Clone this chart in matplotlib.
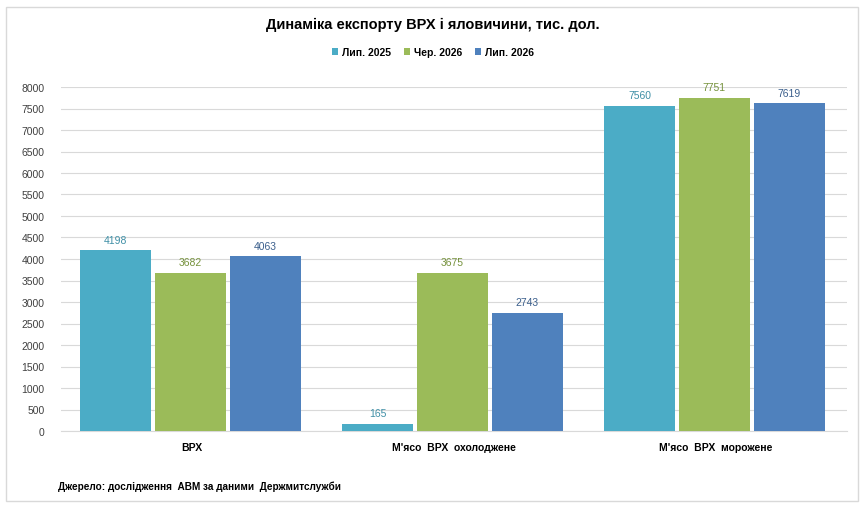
import numpy as np
import matplotlib.pyplot as plt
from matplotlib.patches import Rectangle

plt.rcParams['font.family'] = ['Liberation Sans', 'DejaVu Sans']

categories = ['ВРХ', "М'ясо  ВРХ  охолоджене", "М'ясо  ВРХ  морожене"]
series = ['Лип. 2025', 'Чер. 2026', 'Лип. 2026']
values = {
    'Лип. 2025': [4198, 165, 7560],
    'Чер. 2026': [3682, 3675, 7751],
    'Лип. 2026': [4063, 2743, 7619],
}
bar_colors = ['#4bacc6', '#9bbb59', '#4f81bd']
label_colors = ['#3f8fa6', '#76923c', '#3b5f8c']

fig = plt.figure(figsize=(8.66, 5.10), dpi=100)
fig.patches.append(Rectangle((6/866, 8/510), 852/866, 494/510, transform=fig.transFigure,
                             fill=False, edgecolor='#d9d9d9', linewidth=1))
ax = fig.add_axes([61/866, 1 - 432/510, 786/866, 344/510])

x = np.arange(len(categories))
w = 0.27
step = 0.286
for i, s in enumerate(series):
    pos = x + (i - 1) * step - 0.006
    bars = ax.bar(pos, values[s], width=w, color=bar_colors[i], label=s, zorder=3)
    for b, v in zip(bars, values[s]):
        ax.text(b.get_x() + b.get_width() / 2, v + 130, str(v), ha='center', va='bottom',
                fontsize=7.5, color=label_colors[i])

ax.set_xlim(-0.5, 2.5)
ax.set_ylim(0, 8000)
ax.set_yticks(range(0, 8001, 500))
ax.tick_params(axis='y', length=0, labelsize=7.5, colors='#404040', pad=12)
ax.set_xticks(x)
ax.set_xticklabels(categories, fontsize=7.5, fontweight='bold')
ax.tick_params(axis='x', length=0, pad=8)
ax.grid(axis='y', color='#d9d9d9', linewidth=0.8, zorder=0)
for sp in ['top', 'right', 'left']:
    ax.spines[sp].set_visible(False)
ax.spines['bottom'].set_color('#d9d9d9')

fig.text(0.5, 1 - 25/510, 'Динаміка експорту ВРХ і яловичини, тис. дол.', ha='center', va='center',
         fontsize=10.5, fontweight='bold')
fig.legend(loc='center', bbox_to_anchor=(0.5, 1 - 53/510), ncol=3, frameon=False,
           handlelength=0.6, handleheight=0.6, handletextpad=0.4, columnspacing=1.2,
           prop={'weight': 'bold', 'size': 7.5})
fig.text(58/866, 1 - 487/510, 'Джерело: дослідження  АВМ за даними  Держмитслужби', ha='left', va='center',
         fontsize=7.2, fontweight='bold')

fig.savefig('out.png', dpi=100)
